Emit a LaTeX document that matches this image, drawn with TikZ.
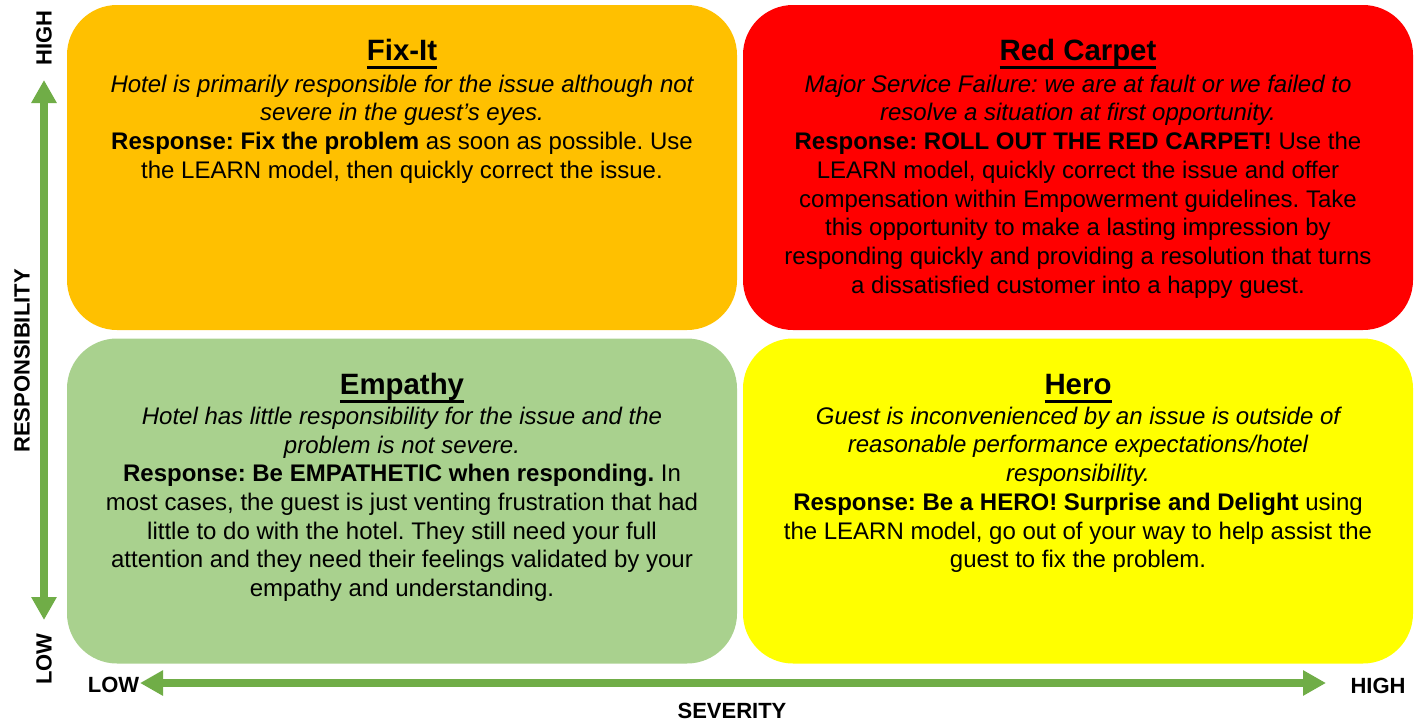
\documentclass[tikz,border=0pt]{standalone}
\usepackage{fontspec}
\setmainfont{Liberation Sans}
\usetikzlibrary{arrows.meta}
\frenchspacing

\definecolor{fixorange}{HTML}{FFC000}
\definecolor{carpetred}{HTML}{FF0000}
\definecolor{empathygreen}{HTML}{A9D18E}
\definecolor{heroyellow}{HTML}{FFFF00}
\definecolor{axisgreen}{HTML}{70AD47}

% heading with a thick underline just below the baseline
\newcommand{\headrule}[1]{\setbox0\hbox{#1}\rlap{\copy0}\rule[-4pt]{\wd0}{1.4pt}}

\begin{document}
\begin{tikzpicture}[x=0.5pt, y=-0.5pt,
    quad/.style={rounded corners=25pt, minimum width=335pt, minimum height=162.5pt, inner sep=0pt},
    heading/.style={anchor=base, font=\fontsize{14.7}{17}\selectfont\bfseries},
    blurb/.style={anchor=north, align=center, inner sep=0pt, font=\fontsize{12}{14.35}\selectfont},
    axis/.style={font=\fontsize{11}{13}\selectfont\bfseries, inner sep=0pt},
    axisarrow/.style={draw=axisgreen, line width=4pt, >={Triangle[length=11.5pt,width=12pt]}, <->}]
    \useasboundingbox (0,0) rectangle (1414,724);

    % the four quadrants
    \node[quad, fill=fixorange] (fixit) at (402,167.5) {};
    \node[quad, fill=carpetred] (redcarpet) at (1078,167.5) {};
    \node[quad, fill=empathygreen] (empathy) at (402,501) {};
    \node[quad, fill=heroyellow] (hero) at (1078,501) {};

    \node[heading] (fixit title) at (402,60.5) {\headrule{Fix-It}};
    \node[blurb] (fixit text) at (402,74.5) {%
        \itshape Hotel is primarily responsible for the issue although not\\
        \itshape severe in the guest’s eyes.\\
        \textbf{Response: Fix the problem} as soon as possible. Use\\
        the LEARN model, then quickly correct the issue.};

    \node[heading] (redcarpet title) at (1078,60.5) {\headrule{Red Carpet}};
    \node[blurb] (redcarpet text) at (1078,74.5) {%
        \itshape Major Service Failure: we are at fault or we failed to\\
        \itshape resolve a situation at first opportunity.\\
        \textbf{Response: ROLL OUT THE RED CARPET!} Use the\\
        LEARN model, quickly correct the issue and offer\\
        compensation within Empowerment guidelines. Take\\
        this opportunity to make a lasting impression by\\
        responding quickly and providing a resolution that turns\\
        a dissatisfied customer into a happy guest.};

    \node[heading] (empathy title) at (402,394.5) {\headrule{Empathy}};
    \node[blurb] (empathy text) at (402,406.5) {%
        \itshape Hotel has little responsibility for the issue and the\\
        \itshape problem is not severe.\\
        \textbf{Response: Be EMPATHETIC when responding.} In\\
        most cases, the guest is just venting frustration that had\\
        little to do with the hotel. They still need your full\\
        attention and they need their feelings validated by your\\
        empathy and understanding.};

    \node[heading] (hero title) at (1078,394.5) {\headrule{Hero}};
    \node[blurb] (hero text) at (1078,406.5) {%
        \itshape Guest is inconvenienced by an issue is outside of\\
        \itshape reasonable performance expectations/hotel\\
        \itshape responsibility.\\
        \textbf{Response: Be a HERO! Surprise and Delight} using\\
        the LEARN model, go out of your way to help assist the\\
        guest to fix the problem.};

    % axes
    \coordinate (resp low) at (44,620);
    \coordinate (resp high) at (44,80);
    \coordinate (sev low) at (140,683);
    \coordinate (sev high) at (1326,683);
    \draw[axisarrow] (resp low) -- (resp high);
    \draw[axisarrow] (sev low) -- (sev high);

    \node[axis, rotate=90] (resp high label) at (44,38) {HIGH};
    \node[axis, rotate=90] (resp low label) at (44,659) {LOW};
    \node[axis, rotate=90] (resp label) at (22,361) {RESPONSIBILITY};
    \node[axis] (sev low label) at (113.5,685) {LOW};
    \node[axis] (sev high label) at (1378,686) {HIGH};
    \node[axis] (sev label) at (732,711) {SEVERITY};
\end{tikzpicture}
\end{document}
